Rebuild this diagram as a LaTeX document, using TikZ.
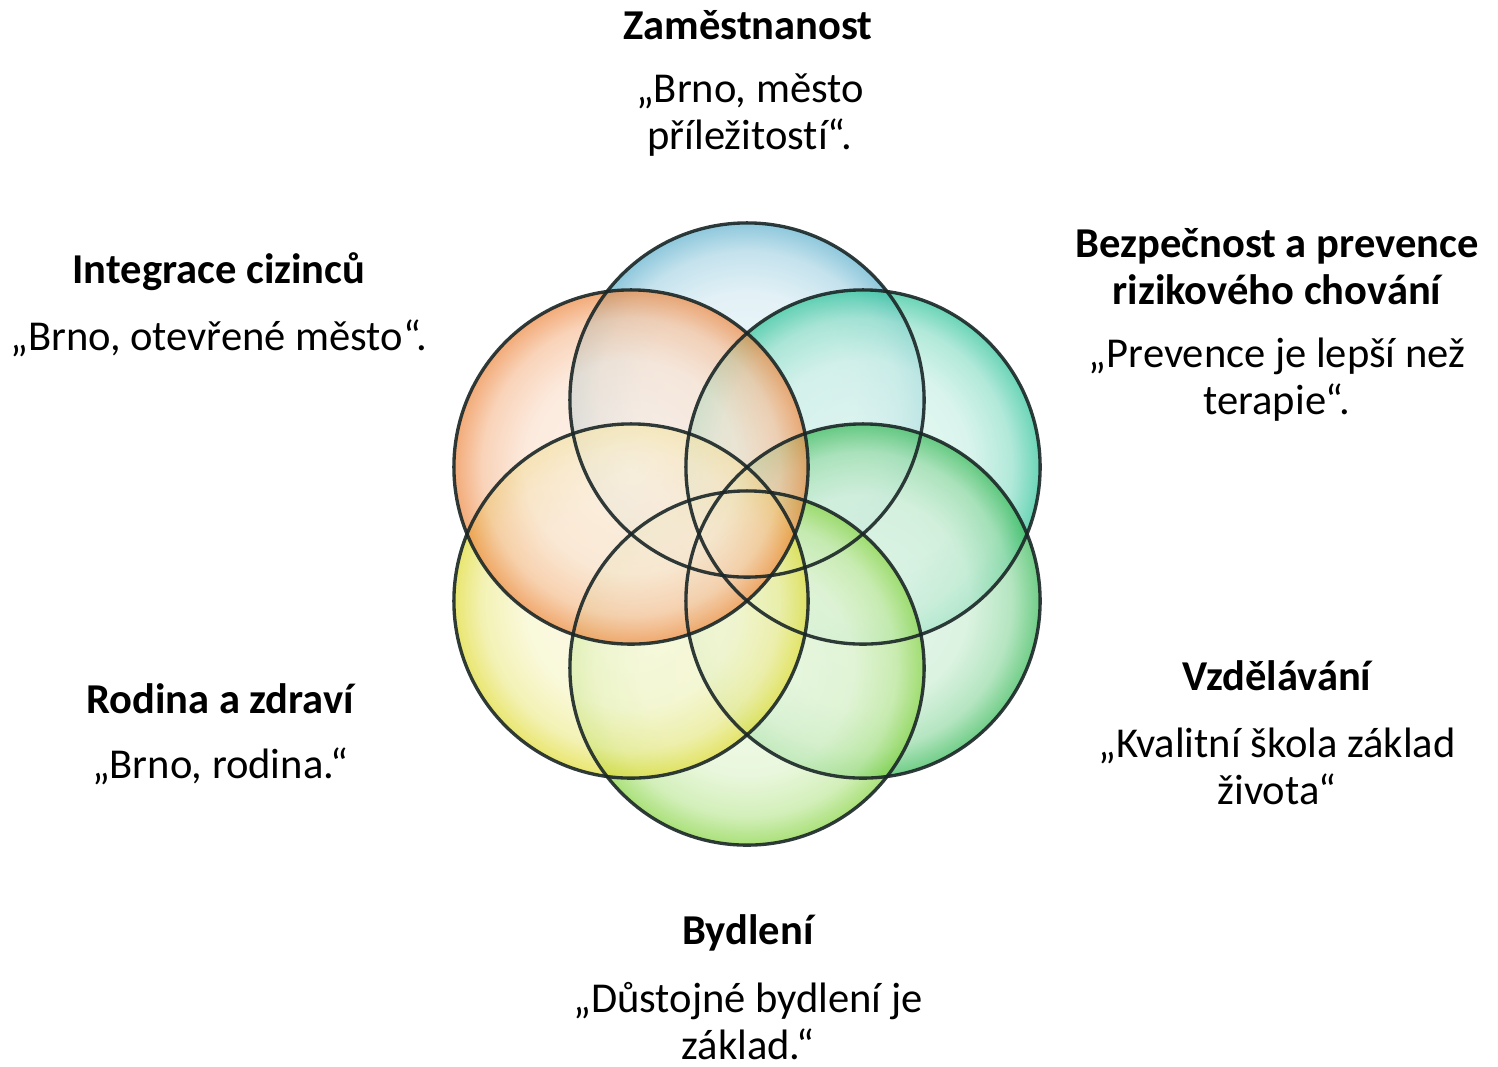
\documentclass[tikz,border=0pt]{standalone}
\usepackage{fontspec}
\setmainfont[Ligatures={NoCommon}]{Carlito}
\usepackage{tikz}
\usetikzlibrary{backgrounds}

\definecolor{cblue}{HTML}{62B2CE}
\definecolor{cteal}{HTML}{30C49A}
\definecolor{cgreen}{HTML}{38BA58}
\definecolor{clime}{HTML}{88D444}
\definecolor{cyellow}{HTML}{E0DC38}
\definecolor{corange}{HTML}{EE8A44}
\definecolor{rim}{HTML}{1A2626}

% glassy bubble: pale inside, stronger rim
\newcommand{\bubbleshade}[2]{%
  \pgfdeclareradialshading{#1}{\pgfpoint{0bp}{0bp}}{%
    color(0bp)=(#2!14); color(15bp)=(#2!25); color(21bp)=(#2!52);
    color(25bp)=(#2); color(50bp)=(#2)}}
\bubbleshade{bblue}{cblue}
\bubbleshade{bteal}{cteal}
\bubbleshade{bgreen}{cgreen}
\bubbleshade{blime}{clime}
\bubbleshade{byellow}{cyellow}
\bubbleshade{borange}{corange}

\begin{document}
\begin{tikzpicture}[x=0.01cm, y=-0.01cm]
	\useasboundingbox (0,0) rectangle (1498,1066);
	\begin{scope}[every node/.style={circle, minimum size=3.54cm,
	              inner sep=0pt, shade, fill opacity=0.72}]
		\node[shading=bblue] (emp) at (747,400) {};
		\node[shading=bteal] (sec) at (863,467) {};
		\node[shading=bgreen] (edu) at (863,601) {};
		\node[shading=blime] (hou) at (747,668) {};
		\node[shading=byellow] (fam) at (631,601) {};
		\node[shading=borange] (int) at (631,467) {};
	\end{scope}
	% outlines on top
	\foreach \c in {emp,sec,edu,hou,fam,int}
		\draw[rim, line width=0.95pt, opacity=0.9] (\c.center) circle (1.77cm);

	\begin{scope}[every node/.style={align=center, inner sep=0pt,
	              font=\fontsize{12.1}{13.3}\selectfont},
	              head/.style={font=\fontsize{12.1}{13.3}\selectfont\bfseries}]
		\node[head] (emph) at (748,25) {Zaměstnanost};
		\node (empq) at (750,115) {„Brno, město\\příležitostí“.};
		\node[head] (inth) at (219,272) {Integrace cizinců};
		\node (intq) at (219,338) {„Brno, otevřené město“.};
		\node[head] (sech) at (1277,267) {Bezpečnost a prevence\\rizikového chování};
		\node (secq) at (1277,380) {„Prevence je lepší než\\terapie“.};
		\node[head] (eduh) at (1277,676) {Vzdělávání};
		\node (eduq) at (1277,766) {„Kvalitní škola základ\\života“};
		\node[head] (famh) at (220,699) {Rodina a zdraví};
		\node (famq) at (220,766) {„Brno, rodina.“};
		\node[head] (houh) at (748,933) {Bydlení};
		\node (houq) at (748,1021) {„Důstojné bydlení je\\základ.“};
	\end{scope}
\end{tikzpicture}
\end{document}
